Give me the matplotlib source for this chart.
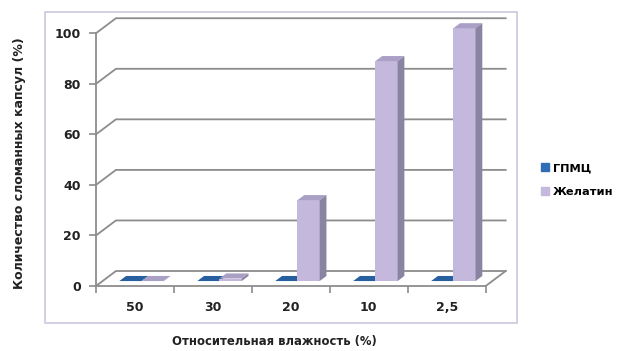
import matplotlib
matplotlib.use('Agg')
import matplotlib.pyplot as plt
from matplotlib.patches import Polygon, Rectangle, Patch

# data
categories = ['50', '30', '20', '10', '2,5']
gpmc = [0, 0, 0, 0, 0]
gelatin = [0, 1, 32, 87, 100]
series_names = ['ГПМЦ', 'Желатин']
yticks = [0, 20, 40, 60, 80, 100]

plt.rcParams['font.family'] = ['DejaVu Sans']

fig = plt.figure(figsize=(6.2, 3.51), dpi=100)
ax = fig.add_axes([96/620, 65/351, 412/620, 273/351])

# 3D-ish depth of the back wall (in data units)
dx, dy = 0.256, 5.93
f0, f1 = 0.33, 0.67
w = 0.285
grid_c = '#8c8c8c'
txt_c = '#222222'

n = len(categories)
xl, xr = -0.5, n - 0.5
ax.set_xlim(xl, xr + dx + 0.03)
ax.set_ylim(0, 108)

# back wall grid lines with diagonals to the front axis
for v in yticks:
    ax.plot([xl, xl + dx, xr + dx], [v, v + dy, v + dy], color=grid_c, lw=1.3, zorder=1)
# floor right edge
ax.plot([xr, xr + dx], [0, dy], color=grid_c, lw=1.3, zorder=1)

colors = {
    0: ('#2f6db5', '#285f9f', '#1f4f85'),
    1: ('#c4b9dd', '#aaa0c6', '#8a83a2'),
}

def bar3d(x0, v, cols):
    front, top, side = cols
    b = f0 * dy
    ddx, ddy = (f1 - f0) * dx, (f1 - f0) * dy
    ax.bar(x0, v, width=w, bottom=b, align='edge', color=front, lw=0, zorder=3)
    ax.add_patch(Polygon([(x0, b + v), (x0 + w, b + v), (x0 + w + ddx, b + v + ddy),
                          (x0 + ddx, b + v + ddy)], closed=True, color=top, lw=0, zorder=3))
    ax.add_patch(Polygon([(x0 + w, b), (x0 + w + ddx, b + ddy), (x0 + w + ddx, b + v + ddy),
                          (x0 + w, b + v)], closed=True, color=side, lw=0, zorder=3))

for i in range(n):
    bar3d(i - w + f0 * dx, gpmc[i], colors[0])
    bar3d(i + f0 * dx, gelatin[i], colors[1])

# axes
for s in ['top', 'right']:
    ax.spines[s].set_visible(False)
ax.spines['left'].set_bounds(0, 100)
ax.spines['bottom'].set_bounds(xl, xr)
for s in ['left', 'bottom']:
    ax.spines[s].set_color(grid_c)
    ax.spines[s].set_linewidth(1.3)

ax.set_yticks(yticks)
ax.set_yticklabels([str(t) for t in yticks], fontsize=9, fontweight='bold', color=txt_c)
ax.tick_params(axis='y', length=5, width=1.2, color=grid_c, pad=6)

ax.set_xticks([i - 0.5 for i in range(n + 1)])
ax.set_xticklabels([''] * (n + 1))
ax.tick_params(axis='x', which='major', length=5, width=1.2, color=grid_c)
ax.set_xticks(range(n), minor=True)
ax.set_xticklabels(categories, minor=True, fontsize=9, fontweight='bold', color=txt_c)
ax.tick_params(axis='x', which='minor', length=0, pad=11)
ax.patch.set_alpha(0)

# plot area border
fig.patches.append(Rectangle((45/620, 1 - 323/351), 472/620, 311/351, transform=fig.transFigure,
                             fill=False, edgecolor='#cdc6df', lw=1.2))

fig.text(20/620, 1 - 163/351, 'Количество сломанных капсул (%)', rotation=90,
         ha='center', va='center', fontsize=9, fontweight='bold', color=txt_c)
fig.text(274/620, 1 - 342/351, 'Относительная влажность (%)',
         ha='center', va='center', fontsize=8.4, fontweight='bold', color=txt_c)

handles = [Patch(color=colors[0][0]), Patch(color=colors[1][0])]
ax.legend(handles, series_names, loc='center left', bbox_to_anchor=(541/620, 1 - 180/351),
          bbox_transform=fig.transFigure, frameon=False, borderpad=0, borderaxespad=0,
          handlelength=0.7, handleheight=0.7, handletextpad=0.35, labelspacing=1.2,
          prop={'size': 8.2, 'weight': 'bold'})

fig.savefig('out.png', dpi=100)
